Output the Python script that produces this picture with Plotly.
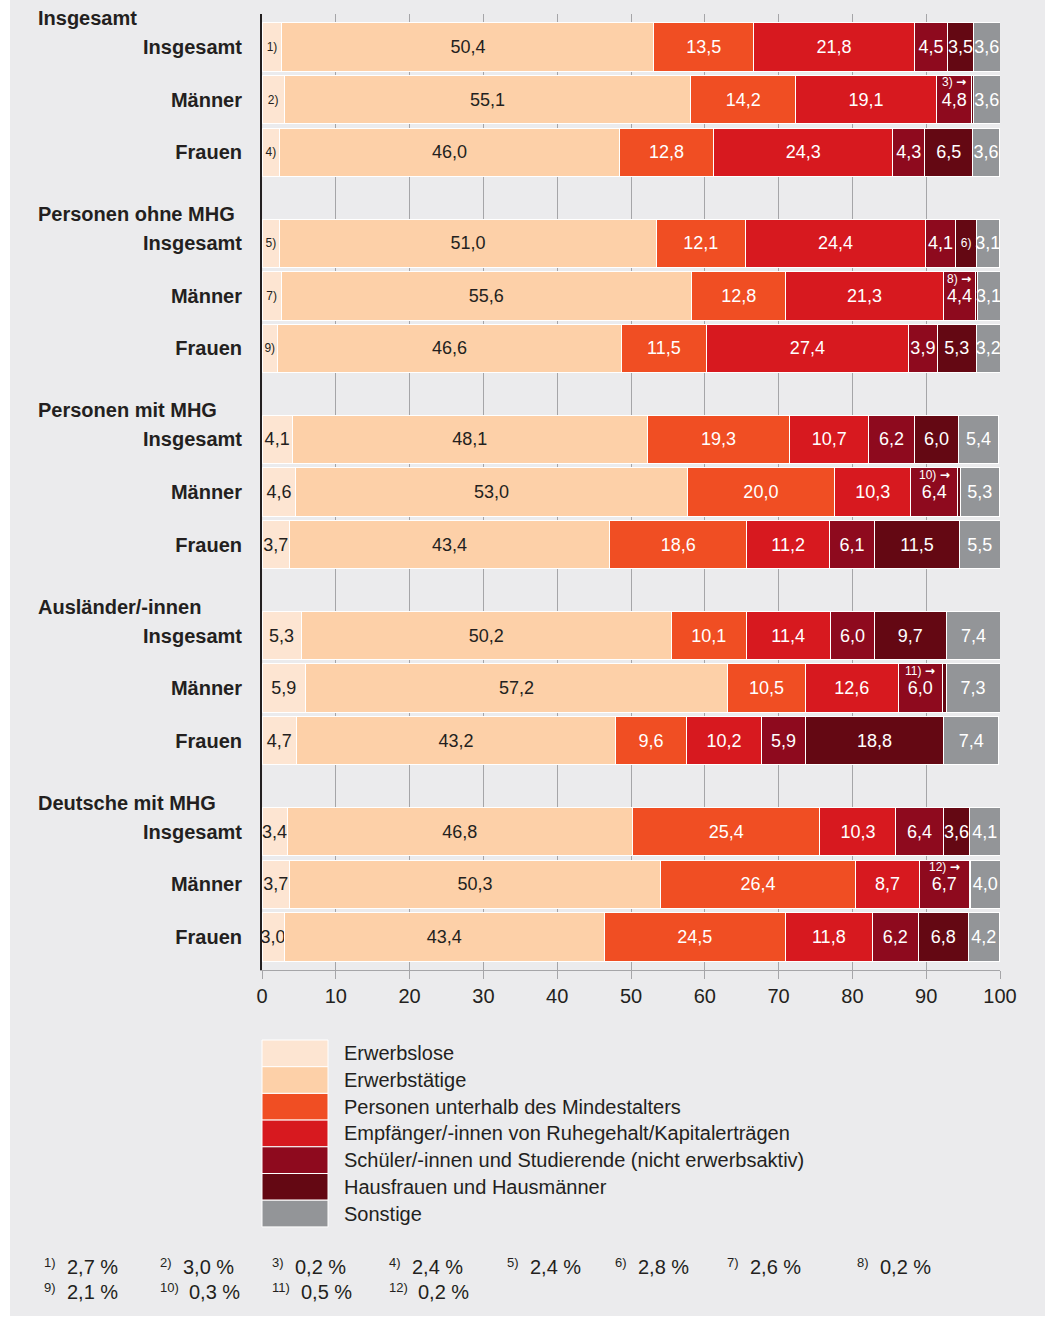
import plotly.graph_objects as go

FONT = "Liberation Sans, Arial, Helvetica, sans-serif"
DARK = "#231F20"

groups = ["Insgesamt", "Personen ohne MHG", "Personen mit MHG", "Ausländer/-innen", "Deutsche mit MHG"]
subgroups = ["Insgesamt", "Männer", "Frauen"]

series = [
    "Erwerbslose",
    "Erwerbstätige",
    "Personen unterhalb des Mindestalters",
    "Empfänger/-innen von Ruhegehalt/Kapitalerträgen",
    "Schüler/-innen und Studierende (nicht erwerbsaktiv)",
    "Hausfrauen und Hausmänner",
    "Sonstige",
]
colors = ["#FDE5D2", "#FDD0A8", "#F04E23", "#D7191F", "#8E0A1E", "#640813", "#939598"]
text_colors = [DARK, DARK, "white", "white", "white", "white", "white"]

# one value per bar, order: group x (Insgesamt, Männer, Frauen)
erwerbslose = [2.7, 3.0, 2.4, 2.4, 2.6, 2.1, 4.1, 4.6, 3.7, 5.3, 5.9, 4.7, 3.4, 3.7, 3.0]
erwerbstaetige = [50.4, 55.1, 46.0, 51.0, 55.6, 46.6, 48.1, 53.0, 43.4, 50.2, 57.2, 43.2, 46.8, 50.3, 43.4]
unter_mindestalter = [13.5, 14.2, 12.8, 12.1, 12.8, 11.5, 19.3, 20.0, 18.6, 10.1, 10.5, 9.6, 25.4, 26.4, 24.5]
ruhegehalt = [21.8, 19.1, 24.3, 24.4, 21.3, 27.4, 10.7, 10.3, 11.2, 11.4, 12.6, 10.2, 10.3, 8.7, 11.8]
schueler = [4.5, 4.8, 4.3, 4.1, 4.4, 3.9, 6.2, 6.4, 6.1, 6.0, 6.0, 5.9, 6.4, 6.7, 6.2]
hausfrauen = [3.5, 0.2, 6.5, 2.8, 0.2, 5.3, 6.0, 0.3, 11.5, 9.7, 0.5, 18.8, 3.6, 0.2, 6.8]
sonstige = [3.6, 3.6, 3.6, 3.1, 3.1, 3.2, 5.4, 5.3, 5.5, 7.4, 7.3, 7.4, 4.1, 4.0, 4.2]

# footnote numbers for segments too narrow for a value (None = value printed)
fn_erwerbslose = [1, 2, 4, 5, 7, 9, None, None, None, None, None, None, None, None, None]
fn_hausfrauen = [None, 3, None, 6, 8, None, None, 10, None, None, 11, None, None, 12, None]

values = [erwerbslose, erwerbstaetige, unter_mindestalter, ruhegehalt, schueler, hausfrauen, sonstige]
footnotes = [fn_erwerbslose, None, None, None, None, fn_hausfrauen, None]


def fmt(v):
    return f"{v:.1f}".replace(".", ",")


# pixel geometry of the plot area
W, H = 1048, 1317
L, R, T, B = 262, 48, 14, 347


def px_x(p):
    return (p - L) / (W - L - R)


def px_y(p):
    return (H - B - p) / (H - B - T)


GROUP_STEP = 3.73
ypos = [g * GROUP_STEP + i for g in range(len(groups)) for i in range(len(subgroups))]

fig = go.Figure()

for name, vals, color, tcol, fn in zip(series, values, colors, text_colors, footnotes):
    texts, sizes = [], []
    for i, v in enumerate(vals):
        n = fn[i] if fn else None
        if n is None:
            texts.append(fmt(v))
            sizes.append(18)
        elif v < 1:
            texts.append(" ")
            sizes.append(18)
        else:
            texts.append(f"{n})")
            sizes.append(12)
    fig.add_trace(go.Bar(
        x=vals, y=ypos, orientation="h", name=name,
        width=0.92,
        marker=dict(color=color, line=dict(color="white", width=1)),
        text=texts, textposition="inside", insidetextanchor="middle",
        textangle=0, constraintext="none",
        textfont=dict(color=tcol, size=sizes, family=FONT),
        hoverinfo="skip", showlegend=False,
    ))

annotations = []

# "n) →" markers over the Schüler segment for tiny Hausfrauen values
for i, n in enumerate(fn_hausfrauen):
    if n is not None and hausfrauen[i] < 1:
        left = erwerbslose[i] + erwerbstaetige[i] + unter_mindestalter[i] + ruhegehalt[i]
        annotations.append(dict(
            x=left + schueler[i] / 2, y=ypos[i] - 0.33, xref="x", yref="y",
            text=f"{n}) <span style='font-family:DejaVu Sans;font-weight:bold'>→</span>",
            showarrow=False,
            font=dict(size=12, color="white", family=FONT),
        ))

# group titles
for g, title in enumerate(groups):
    annotations.append(dict(
        x=px_x(36), y=ypos[g * 3] - 0.55, xref="paper", yref="y",
        xanchor="left", yanchor="middle", text=f"<b>{title}</b>", showarrow=False,
        font=dict(size=20, color=DARK, family=FONT),
    ))

shapes = [dict(
    type="rect", xref="paper", yref="paper", layer="below",
    x0=px_x(10), x1=px_x(1045), y0=px_y(0), y1=px_y(1316),
    fillcolor="#EBEBED", line=dict(width=0),
)]

# legend
ROW_H = 26.7
for k, (name, color) in enumerate(zip(series, colors)):
    top = 1040 + k * ROW_H
    shapes.append(dict(
        type="rect", xref="paper", yref="paper",
        x0=px_x(262), x1=px_x(328), y0=px_y(top + ROW_H), y1=px_y(top),
        fillcolor=color, line=dict(color="white", width=1),
    ))
    annotations.append(dict(
        x=px_x(342), y=px_y(top + ROW_H / 2), xref="paper", yref="paper",
        xanchor="left", yanchor="middle", text=name, showarrow=False,
        font=dict(size=20, color=DARK, family=FONT),
    ))

# footnote list
fn_items = {}
for fn, vals in ((fn_erwerbslose, erwerbslose), (fn_hausfrauen, hausfrauen)):
    for i, n in enumerate(fn):
        if n is not None:
            fn_items[n] = vals[i]
col_x = [42, 158, 270, 387, 505, 613, 725, 855]
row_y = [1267, 1292]
for idx, n in enumerate(sorted(fn_items)):
    r, c = divmod(idx, len(col_x))
    x0 = col_x[c]
    annotations.append(dict(
        x=px_x(x0), y=px_y(row_y[r] - 5), xref="paper", yref="paper",
        xanchor="left", yanchor="middle", text=f"{n})", showarrow=False,
        font=dict(size=13, color=DARK, family=FONT),
    ))
    annotations.append(dict(
        x=px_x(x0 + 17 + 6 * len(str(n))), y=px_y(row_y[r]), xref="paper", yref="paper",
        xanchor="left", yanchor="middle", text=f"{fmt(fn_items[n])} %", showarrow=False,
        font=dict(size=20, color=DARK, family=FONT),
    ))

fig.update_layout(
    barmode="stack",
    width=W, height=H, autosize=False,
    margin=dict(l=L, r=R, t=T, b=B),
    paper_bgcolor="white",
    plot_bgcolor="rgba(0,0,0,0)",
    font=dict(family=FONT, color=DARK),
    shapes=shapes,
    annotations=annotations,
)
fig.update_xaxes(
    range=[0, 100], dtick=10, showgrid=True, gridcolor="#A5A5A8", gridwidth=1,
    zeroline=False, showline=True, linecolor="#A5A5A8", linewidth=1,
    ticks="outside", ticklen=8, tickcolor="#A5A5A8",
    tickfont=dict(size=20, color=DARK, family=FONT),
)
fig.update_yaxes(
    tickvals=ypos, ticktext=subgroups * len(groups),
    range=[ypos[-1] + 0.63, -0.63],
    showgrid=False, zeroline=False, showline=True, linecolor=DARK, linewidth=2,
    ticks="", ticklabelstandoff=14,
    tickfont=dict(size=20, color=DARK, family=FONT, weight="bold"),
)

fig.write_html("out.html", config={"displayModeBar": False},
               post_script="document.body.style.margin='0px';")
